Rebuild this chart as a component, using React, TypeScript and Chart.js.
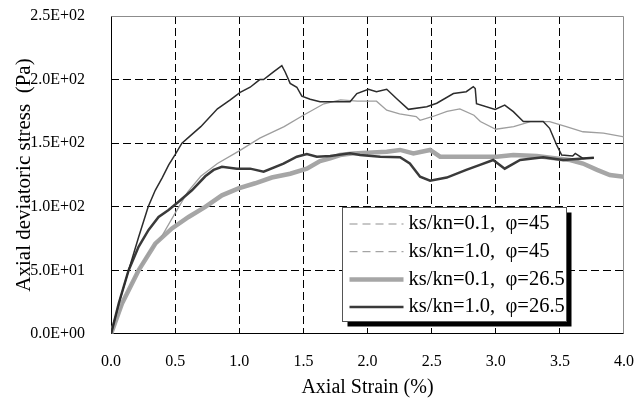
import { useEffect, useRef } from "react";
import { Chart, registerables } from "chart.js";

Chart.register(...registerables);

// ks/kn = 0.1, phi = 45
const strainA = [0, 0.1, 0.2, 0.3, 0.38, 0.5, 0.6, 0.7, 0.83, 1.0, 1.16, 1.35, 1.5, 1.66, 1.79, 1.92, 2.07, 2.15, 2.25, 2.38, 2.41, 2.51, 2.62, 2.72, 2.83, 2.88, 3.0, 3.14, 3.27, 3.42, 3.55, 3.68, 3.84, 4.0];
const stressA = [0, 27, 48, 65, 74, 95, 112, 124, 134, 144, 154, 163, 172, 181, 184, 183, 183, 176, 173, 171, 168, 171, 175, 177, 172, 167, 161, 163, 167, 167, 163, 159, 158, 155];

// ks/kn = 1.0, phi = 45
const strainB = [0, 0.07, 0.137, 0.215, 0.29, 0.345, 0.4, 0.45, 0.5, 0.553, 0.62, 0.7, 0.83, 0.93, 1.007, 1.085, 1.16, 1.19, 1.267, 1.332, 1.358, 1.397, 1.449, 1.488, 1.553, 1.63, 1.71, 1.864, 1.917, 2.007, 2.07, 2.15, 2.228, 2.319, 2.462, 2.54, 2.67, 2.77, 2.825, 2.84, 2.85, 2.995, 3.07, 3.137, 3.215, 3.37, 3.42, 3.475, 3.514, 3.6, 3.62, 3.68, 3.765];
const stressB = [0, 27, 50, 76, 100, 113, 123, 133, 141, 150, 156, 163, 177, 184, 190, 194, 200, 200, 206, 211, 206, 197, 194, 187, 184.5, 182.6, 182.6, 182.6, 189, 192.4, 190.5, 192.4, 185, 176.6, 178.7, 181.4, 189, 190.5, 194.4, 193, 181, 176.6, 180, 174.8, 167, 167, 161.7, 148.6, 140.7, 140, 142, 138, 138.6];

// ks/kn = 0.1, phi = 26.5
const strainC = [0, 0.086, 0.215, 0.345, 0.475, 0.605, 0.735, 0.865, 0.994, 1.124, 1.254, 1.397, 1.527, 1.63, 1.709, 1.786, 1.89, 2.15, 2.254, 2.358, 2.488, 2.566, 2.72, 2.877, 3.007, 3.137, 3.32, 3.475, 3.58, 3.68, 3.79, 3.89, 4.0];
const stressC = [0, 24, 50, 71, 83, 92, 100, 109, 114.5, 118.5, 123, 126, 130, 136, 138, 140.7, 142, 143.3, 144.7, 142, 144.7, 139.4, 139.4, 139.4, 139.4, 140.7, 140, 138, 136.8, 134, 129, 125, 123.7];

// ks/kn = 1.0, phi = 26.5
const strainD = [0, 0.06, 0.137, 0.215, 0.293, 0.371, 0.449, 0.527, 0.631, 0.735, 0.8, 0.865, 0.982, 1.085, 1.19, 1.345, 1.449, 1.527, 1.605, 1.709, 1.864, 1.942, 2.1, 2.254, 2.33, 2.41, 2.488, 2.618, 2.77, 2.877, 2.98, 3.07, 3.19, 3.37, 3.525, 3.68, 3.765];
const stressD = [0, 24, 50, 68.6, 81.8, 92, 97.5, 104, 113, 124, 129, 131.5, 130, 130, 127.6, 134, 139.4, 141.5, 139.4, 140, 142, 140.7, 139.4, 139, 134, 123.7, 120.5, 123, 129, 133, 136.8, 130, 136.8, 139, 136.8, 138, 138.6];

const seriesLabels = ["ks/kn=0.1,  φ=45", "ks/kn=1.0,  φ=45", "ks/kn=0.1,  φ=26.5", "ks/kn=1.0,  φ=26.5"];

const xTitle = "Axial Strain (%)";
const yTitle = "Axial deviatoric stress  (Pa)";

const SERIF = "'Liberation Serif', 'Times New Roman', serif";

const toPoints = (xs: number[], ys: number[]) => xs.map((x, i) => ({ x, y: ys[i] }));

// "2.5E+02" style labels for the stress axis
const sciLabel = (v: number) => {
  if (v === 0) return "0.0E+00";
  const exp = Math.floor(Math.log10(Math.abs(v)));
  const mant = v / Math.pow(10, exp);
  const sign = exp < 0 ? "-" : "+";
  return `${mant.toFixed(1)}E${sign}${String(Math.abs(exp)).padStart(2, "0")}`;
};

// legend sample line styles
const legendSamples = [
  { color: "#8f8f8f", width: 1, dash: [8, 5] },
  { color: "#8f8f8f", width: 1, dash: [8, 5] },
  { color: "#a6a6a6", width: 4.5, dash: [] as number[] },
  { color: "#3a3a3a", width: 2.5, dash: [] as number[] },
];

const framePlugin = {
  id: "frame",
  beforeDatasetsDraw(chart: any) {
    const { ctx, chartArea } = chart;
    const l = Math.round(chartArea.left) + 0.5;
    const r = Math.round(chartArea.right) - 0.5;
    const t = Math.round(chartArea.top) + 0.5;
    const b = Math.round(chartArea.bottom) - 0.5;
    ctx.save();
    ctx.lineWidth = 1;
    ctx.strokeStyle = "#8c8c8c";
    ctx.beginPath();
    ctx.moveTo(l, t);
    ctx.lineTo(r, t);
    ctx.lineTo(r, b);
    ctx.stroke();
    ctx.strokeStyle = "#000000";
    ctx.beginPath();
    ctx.moveTo(l, t);
    ctx.lineTo(l, b);
    ctx.lineTo(r, b);
    ctx.stroke();
    ctx.restore();
  },
};

const legendPlugin = {
  id: "boxLegend",
  afterDraw(chart: any) {
    const { ctx, chartArea } = chart;
    const left = Math.round(chartArea.left + 231) + 0.5;
    const top = Math.round(chartArea.top + 191) + 0.5;
    const w = 224;
    const h = 114;
    ctx.save();
    // drop shadow
    ctx.fillStyle = "#000000";
    ctx.fillRect(left + 5, top + 5, w, h);
    ctx.fillStyle = "#ffffff";
    ctx.fillRect(left, top, w, h);
    ctx.strokeStyle = "#555555";
    ctx.lineWidth = 1;
    ctx.strokeRect(left, top, w, h);

    ctx.font = `20.5px ${SERIF}`;
    ctx.textBaseline = "middle";
    ctx.textAlign = "left";
    seriesLabels.forEach((label, i) => {
      const y = top + 16.5 + i * 27.7;
      const s = legendSamples[i];
      ctx.strokeStyle = s.color;
      ctx.lineWidth = s.width;
      ctx.setLineDash(s.dash);
      ctx.beginPath();
      ctx.moveTo(left + 7, y);
      ctx.lineTo(left + 61, y);
      ctx.stroke();
      ctx.setLineDash([]);
      ctx.fillStyle = "#000000";
      ctx.fillText(label, left + 66, y);
    });
    ctx.restore();
  },
};

export default function App() {
  const canvasRef = useRef<HTMLCanvasElement | null>(null);

  useEffect(() => {
    document.body.style.margin = "0";
    const canvas = canvasRef.current;
    if (!canvas) return;

    const gridColor = (ctx: any) => {
      const n = ctx.scale.ticks.length;
      return ctx.index === 0 || ctx.index === n - 1 ? "rgba(0,0,0,0)" : "#000000";
    };

    const chart = new Chart(canvas, {
      type: "scatter",
      data: {
        datasets: [
          {
            label: seriesLabels[0],
            data: toPoints(strainA, stressA),
            borderColor: "#9e9e9e",
            borderWidth: 1.3,
            order: 3,
          },
          {
            label: seriesLabels[1],
            data: toPoints(strainB, stressB),
            borderColor: "#2c2c2c",
            borderWidth: 1.5,
            order: 1,
          },
          {
            label: seriesLabels[2],
            data: toPoints(strainC, stressC),
            borderColor: "#a6a6a6",
            borderWidth: 4.5,
            order: 4,
          },
          {
            label: seriesLabels[3],
            data: toPoints(strainD, stressD),
            borderColor: "#3a3a3a",
            borderWidth: 2.5,
            order: 2,
          },
        ].map((d) => ({
          ...d,
          showLine: true,
          pointRadius: 0,
          pointHoverRadius: 0,
          fill: false,
          tension: 0,
        })),
      },
      options: {
        animation: false,
        responsive: false,
        events: [],
        layout: { autoPadding: false, padding: { top: 16, right: 10, left: 0, bottom: 0 } },
        plugins: {
          legend: { display: false },
          tooltip: { enabled: false },
        },
        scales: {
          x: {
            type: "linear",
            min: 0,
            max: 4,
            afterFit: (scale: any) => {
              scale.height = 67;
              scale.paddingLeft = 0;
              scale.paddingRight = 0;
            },
            ticks: {
              stepSize: 0.5,
              padding: 18,
              color: "#000000",
              font: { family: SERIF, size: 16 },
              callback: (v: any) => Number(v).toFixed(1),
            },
            grid: { color: gridColor, lineWidth: 1, drawTicks: false },
            border: { display: false, dash: [8, 4] },
            title: {
              display: true,
              text: xTitle,
              color: "#000000",
              font: { family: SERIF, size: 20 },
              padding: { top: 0, bottom: 1 },
            },
          },
          y: {
            type: "linear",
            min: 0,
            max: 250,
            afterFit: (scale: any) => {
              scale.width = 111;
              scale.paddingTop = 0;
              scale.paddingBottom = 0;
            },
            ticks: {
              stepSize: 50,
              padding: 26,
              color: "#000000",
              font: { family: SERIF, size: 16 },
              callback: (v: any) => sciLabel(Number(v)),
            },
            grid: { color: gridColor, lineWidth: 1, drawTicks: false },
            border: { display: false, dash: [8, 4] },
            title: {
              display: true,
              text: yTitle,
              color: "#000000",
              font: { family: SERIF, size: 21 },
              padding: { top: 12, bottom: 0 },
            },
          },
        },
      },
      plugins: [framePlugin, legendPlugin],
    } as any);

    return () => chart.destroy();
  }, []);

  return (
    <div style={{ width: 634, height: 401, background: "#ffffff" }}>
      <canvas ref={canvasRef} width={634} height={401} />
    </div>
  );
}
